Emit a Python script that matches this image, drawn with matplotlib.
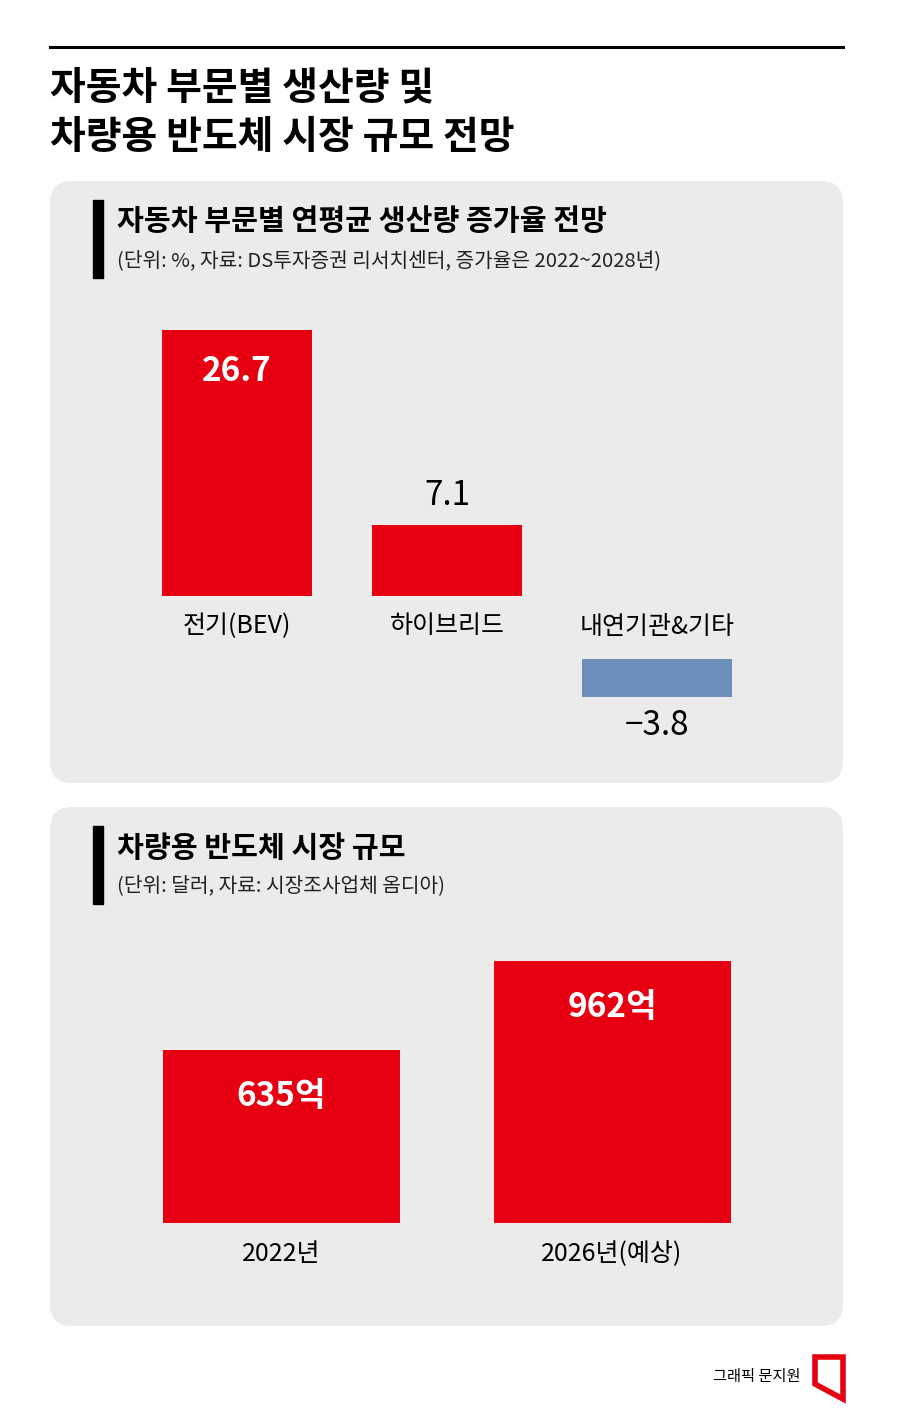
import matplotlib
matplotlib.use("Agg")
import matplotlib.pyplot as plt
from matplotlib.patches import FancyBboxPatch, Rectangle, Polygon

plt.rcParams['font.family'] = ['Noto Sans CJK KR', 'DejaVu Sans']

cats1 = ['전기(BEV)', '하이브리드', '내연기관&기타']
vals1 = [26.7, 7.1, -3.8]
labels1 = ['26.7', '7.1', '−3.8']
cats2 = ['2022년', '2026년(예상)']
vals2 = [635, 962]
labels2 = ['635억', '962억']

W, H = 900, 1409
RED = '#e60012'
BLUE = '#6b8fb9'
fig = plt.figure(figsize=(W/100, H/100), dpi=100)
bg = fig.add_axes([0, 0, 1, 1]); bg.set_xlim(0, W); bg.set_ylim(H, 0); bg.axis('off')

bg.plot([50, 843], [47, 47], color='black', lw=2.2)
bg.text(50, 88, '자동차 부문별 생산량 및', fontsize=28, fontweight='bold', va='center')
bg.text(50, 137, '차량용 반도체 시장 규모 전망', fontsize=28, fontweight='bold', va='center')

for y0, y1 in [(181, 783), (807, 1326)]:
    bg.add_patch(FancyBboxPatch((50, y0), 793, y1-y0, boxstyle='round,pad=0,rounding_size=22',
                                fc='#ebebeb', ec='none'))
bg.add_patch(Rectangle((93, 200), 10, 78, color='black'))
bg.text(117, 221, '자동차 부문별 연평균 생산량 증가율 전망', fontsize=21, fontweight='bold', va='center')
bg.text(117, 261, '(단위: %, 자료: DS투자증권 리서치센터, 증가율은 2022~2028년)', fontsize=14.6, va='center', color='#222')
bg.add_patch(Rectangle((93, 826), 10, 78, color='black'))
bg.text(117, 848, '차량용 반도체 시장 규모', fontsize=21, fontweight='bold', va='center')
bg.text(117, 886, '(단위: 달러, 자료: 시장조사업체 옴디아)', fontsize=14.6, va='center', color='#222')

bg.text(800, 1376, '그래픽 문지원', fontsize=11, ha='right', va='center')
bg.add_patch(Polygon([(815, 1357), (843, 1357), (843, 1399), (815, 1384)], closed=True,
                     fc='none', ec=RED, lw=4, joinstyle='miter'))

def px_axes(x0, x1, ytop, ybot):
    return fig.add_axes([x0/W, 1-ybot/H, (x1-x0)/W, (ybot-ytop)/H])

# Chart 1
ax1 = px_axes(50, 843, 300, 760)
ax1.set_xlim(-187/210, 606/210); ax1.set_ylim((596-760)/9.96, (596-300)/9.96); ax1.axis('off')
offset = -6.3
for i, (c, v, l) in enumerate(zip(cats1, vals1, labels1)):
    if v >= 0:
        ax1.bar(i, v, width=150/210, color=RED)
        ax1.text(i, -3.0, c, ha='center', va='center', fontsize=18)
        if v > 15:
            ax1.text(i, v-4.2, l, ha='center', va='center', fontsize=24, fontweight='bold', color='white')
        else:
            ax1.text(i, v+3.0, l, ha='center', va='center', fontsize=24, fontweight='medium')
    else:
        ax1.bar(i, v, bottom=offset, width=150/210, color=BLUE)
        ax1.text(i, offset+3.2, c, ha='center', va='center', fontsize=18)
        ax1.text(i, offset+v-2.9, l, ha='center', va='center', fontsize=24, fontweight='medium')

# Chart 2
ax2 = px_axes(50, 843, 930, 1300)
ax2.set_xlim(-231/331, 562/331); ax2.set_ylim((1223-1300)/0.2727, (1223-930)/0.2727); ax2.axis('off')
for i, (c, v, l) in enumerate(zip(cats2, vals2, labels2)):
    ax2.bar(i, v, width=237/331, color=RED)
    ax2.text(i, v-172, l, ha='center', va='center', fontsize=24, fontweight='bold', color='white')
    ax2.text(i, -115, c, ha='center', va='center', fontsize=18)

fig.savefig('out.png', dpi=100)
